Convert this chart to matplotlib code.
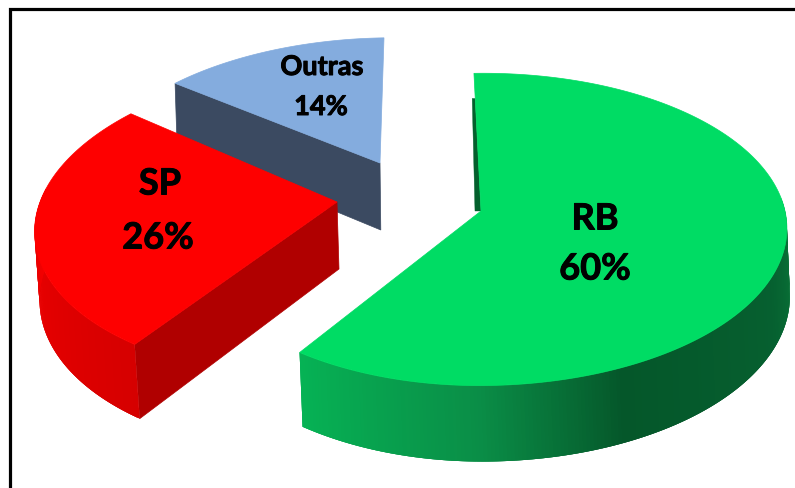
import numpy as np
import matplotlib
matplotlib.use('Agg')
import matplotlib.pyplot as plt
import matplotlib.patheffects as pe
from matplotlib.colors import to_rgb

# shares of the pie
labels = ['RB', 'SP', 'Outras']
shares = [60, 26, 14]

# look of each slice, in pixels of the picture
apex = {'RB': (481, 211), 'SP': (337, 202), 'Outras': (380, 163)}
rx_left = {'RB': 290, 'SP': 297, 'Outras': 288}
rx_right = {'RB': 304, 'SP': 297, 'Outras': 288}
ry = {'RB': 154, 'SP': 155, 'Outras': 140}
lean = {'RB': 2, 'SP': 22, 'Outras': 13}
drop_dx = {'RB': 3, 'SP': 5, 'Outras': 2}
depth = 67
k = 0.118
start_angle = -2

top_color = {'RB': '#00dc64', 'SP': '#fe0000', 'Outras': '#84acde'}
plt.rcParams['font.family'] = ['Lato', 'DejaVu Sans']


def project(name, a, r=1.0):
    # a in degrees, clockwise from the top of the pie
    u = r * np.sin(np.radians(a))
    v = r * np.cos(np.radians(a))
    s = 1 / (1 + k * v)
    w = rx_right[name] if u > 0 else rx_left[name]
    x = apex[name][0] + w * u * s + lean[name] * v
    y = apex[name][1] - ry[name] * v * s
    return x, y, s


def drop(name, a, r=1.0):
    x, y, s = project(name, a, r)
    return x + drop_dx[name] * (0.4 + 0.6 * r), y + depth * s


def wall(ax, name, a0, a1, stops):
    # outer wall of the slice, thin strips that overlap so no seams show
    angles = np.linspace(a0, a1, 200)
    pos = [p[0] for p in stops]
    cols = np.array([to_rgb(p[1]) for p in stops])
    for i in range(len(angles) - 1):
        a = angles[i]
        b = angles[min(i + 3, len(angles) - 1)]
        c = [np.interp(a, pos, cols[:, j]) for j in range(3)]
        pts = [project(name, a)[:2], project(name, b)[:2], drop(name, b), drop(name, a)]
        ax.fill(*zip(*pts), color=c, lw=0, zorder=z[name])


def radial_wall(ax, name, a, color):
    pts = [project(name, a, 0)[:2], project(name, a)[:2], drop(name, a), drop(name, a, 0)]
    ax.fill(*zip(*pts), color=color, lw=0.5, zorder=z[name])


def top(ax, name, a0, a1):
    angles = np.linspace(a0, a1, 200)
    xs = [apex[name][0]] + [project(name, a)[0] for a in angles]
    ys = [apex[name][1]] + [project(name, a)[1] for a in angles]
    ax.fill(xs, ys, color=top_color[name], lw=0.5, zorder=z[name] + 0.5)


def label(x, y, text, size):
    t = ax.text(x, y, text, fontsize=size, fontweight='bold', ha='center', va='center', zorder=5)
    t.set_path_effects([pe.withStroke(linewidth=0.7, foreground='black')])


z = {'Outras': 1, 'SP': 2, 'RB': 3}

fig = plt.figure(figsize=(7.95, 4.88), dpi=100)
ax = fig.add_axes([0, 0, 1, 1])
ax.set_xlim(0, 795)
ax.set_ylim(488, 0)
ax.axis('off')

# frame, only top and left are inside the crop
ax.plot([10, 10, 795], [488, 8.5, 8.5], color='black', lw=2.3, solid_joinstyle='miter')

spans = {}
a = start_angle
for name, share in zip(labels, shares):
    spans[name] = (a, a + share * 3.6)
    a += share * 3.6

a0, a1 = spans['Outras']
radial_wall(ax, 'Outras', a0, '#3b4a61')
top(ax, 'Outras', a0, a1)

a0, a1 = spans['SP']
radial_wall(ax, 'SP', a0, '#b00000')
wall(ax, 'SP', a0, 275, [(a0, '#d60000'), (250, '#e60000'), (275, '#f80000')])
top(ax, 'SP', a0, a1)

a0, a1 = spans['RB']
wall(ax, 'RB', 85, a1, [(85, '#0a7a3a'), (115, '#066030'), (155, '#05572a'),
                        (180, '#0a8e47'), (a1, '#06b355')])
# thin dark sliver behind the first cut
sx, sy, _ = project('RB', a0, 0.8)
ax.fill([sx, sx - 3, apex['RB'][0] - 6, apex['RB'][0]], [sy, sy, apex['RB'][1], apex['RB'][1]],
        color='#04602d', lw=0.3, zorder=z['RB'])
top(ax, 'RB', a0, a1)

# labels
label(595, 219, labels[0], 26)
label(595, 269, f'{shares[0]}%', 26)
label(160, 184, labels[1], 26)
label(158, 238, f'{shares[1]}%', 26)
label(322, 67, labels[2], 19.5)
label(321, 107, f'{shares[2]}%', 19.5)

fig.savefig('out.png', dpi=100)
